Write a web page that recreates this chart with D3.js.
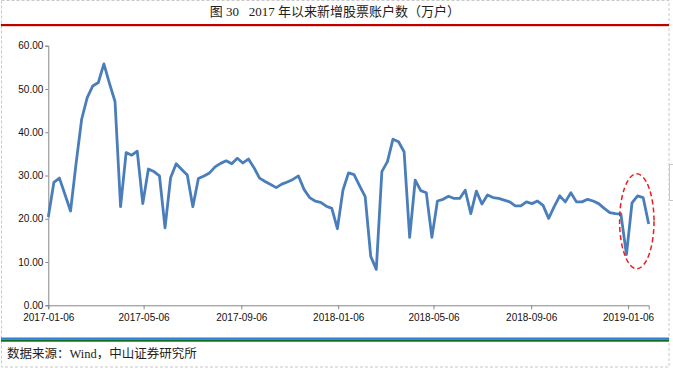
<!DOCTYPE html>
<html><head><meta charset="utf-8">
<script src="https://cdn.jsdelivr.net/npm/d3@7"></script>
<style>
html,body{margin:0;padding:0;background:#fff;}
svg{display:block;}
</style>
</head><body>
<svg id="c" width="673" height="370"></svg>
<script>
const title = "图 30   2017 年以来新增股票账户数（万户）";
const source = "数据来源：Wind，中山证券研究所";
const startDate = "2017-01-06";
const tickLabels = ["2017-01-06","2017-05-06","2017-09-06","2018-01-06","2018-05-06","2018-09-06","2019-01-06"];
const yTicks = [0,10,20,30,40,50,60];
const values = [
 20.4,28.4,29.4,25.6,21.8,32.8,43.0,48.0,50.7,51.5,
 55.8,51.3,47.1,22.8,35.3,34.7,35.6,23.5,31.5,30.9,
 29.9,17.9,29.5,32.7,31.4,30.1,22.8,29.3,29.9,30.6,
 32.0,32.8,33.4,32.7,34.0,32.9,33.8,31.8,29.4,28.6,
 27.9,27.2,28.0,28.5,29.1,29.9,26.8,24.9,24.1,23.8,
 22.9,22.4,17.7,26.6,30.6,30.2,27.6,25.1,11.3,8.3,
 30.9,33.2,38.4,37.8,35.5,15.7,28.9,26.5,26.0,15.7,
 24.1,24.5,25.2,24.7,24.7,26.6,21.2,26.4,23.4,25.5,
 24.9,24.7,24.3,23.9,23.0,23.0,23.9,23.5,24.1,23.1,
 20.1,22.8,25.3,23.9,26.0,23.9,23.9,24.5,24.1,23.5,
 22.4,21.4,21.2,21.1,11.7,23.7,25.3,24.9,18.8
];
const highlightFrom = 103, highlightTo = 108;

const parse = d3.timeParse("%Y-%m-%d");
const t0 = parse(startDate);
const data = values.map((v,i)=>({date:d3.timeDay.offset(t0,7*i), value:v}));

const svg = d3.select("#c");

// page frame (dashed)
svg.append("rect").attr("x",1.5).attr("y",0.5).attr("width",667.5).attr("height",366.5)
  .attr("fill","none").attr("stroke","#c8c8c8").attr("stroke-dasharray","3,2").attr("stroke-width",1);
svg.append("rect").attr("x",669.5).attr("y",164.5).attr("width",6).attr("height",36)
  .attr("fill","none").attr("stroke","#c8c8c8").attr("stroke-width",1);

// title
svg.append("text").attr("x",335).attr("y",16).attr("text-anchor","middle")
  .attr("font-family","'Liberation Serif','Noto Sans CJK SC',serif").attr("font-size",13)
  .attr("fill","#222").attr("xml:space","preserve").text(title);
svg.append("rect").attr("x",1).attr("y",24).attr("width",668).attr("height",2.2).attr("fill","#c00000");

// bottom bars
svg.append("rect").attr("x",1).attr("y",337.5).attr("width",668).attr("height",2).attr("fill","#2f7fd6");
svg.append("rect").attr("x",1).attr("y",339.5).attr("width",668).attr("height",2.2).attr("fill","#0e6b1c");
svg.append("text").attr("x",7).attr("y",358)
  .attr("font-family","'Liberation Serif','Noto Sans CJK SC',serif").attr("font-size",12.5)
  .attr("fill","#222").text(source);

const x = d3.scaleTime().domain([t0, parse("2019-02-01")]).range([48.3, 648.7]);
const y = d3.scaleLinear().domain([0,60]).range([305.3, 45.7]);

const axisColor = "#868686";
const xAxis = d3.axisBottom(x).tickValues(tickLabels.map(parse)).tickFormat(d3.timeFormat("%Y-%m-%d")).tickSizeOuter(0).tickSize(4);
const gx = svg.append("g").attr("transform",`translate(0,${y(0)})`).call(xAxis);
gx.select(".domain").attr("stroke",axisColor);
gx.selectAll(".tick line").attr("stroke",axisColor);
gx.selectAll(".tick text").attr("font-family","'Liberation Sans',Arial,sans-serif").attr("font-size",10).attr("fill","#111").attr("dy","0.9em");

const yAxis = d3.axisLeft(y).tickValues(yTicks).tickFormat(d3.format(".2f")).tickSizeOuter(0).tickSize(3);
const gy = svg.append("g").attr("transform",`translate(${x(t0)},0)`).call(yAxis);
gy.select(".domain").attr("stroke",axisColor);
gy.selectAll(".tick line").attr("stroke",axisColor);
gy.selectAll(".tick text").attr("font-family","'Liberation Sans',Arial,sans-serif").attr("font-size",10).attr("fill","#111").attr("x",-5);

const line = d3.line().x(d=>x(d.date)).y(d=>y(d.value));
svg.append("path").datum(data).attr("d",line).attr("fill","none")
  .attr("stroke","#4a7ebb").attr("stroke-width",2.8).attr("stroke-linejoin","round");

// highlight ellipse around last weeks
const hs = data.slice(highlightFrom, highlightTo+1);
const ex0 = x(hs[0].date), ex1 = x(hs[hs.length-1].date);
const eyMin = y(d3.max(hs,d=>d.value)), eyMax = y(d3.min(hs,d=>d.value));
svg.append("ellipse").attr("cx",(ex0+ex1)/2+2).attr("cy",(eyMin+eyMax)/2 - 4)
  .attr("rx",(ex1-ex0)/2+3.3).attr("ry",(eyMax-eyMin)/2+18)
  .attr("fill","none").attr("stroke","#ee1c1c").attr("stroke-width",1.5).attr("stroke-dasharray","5,3");
</script>
</body></html>
